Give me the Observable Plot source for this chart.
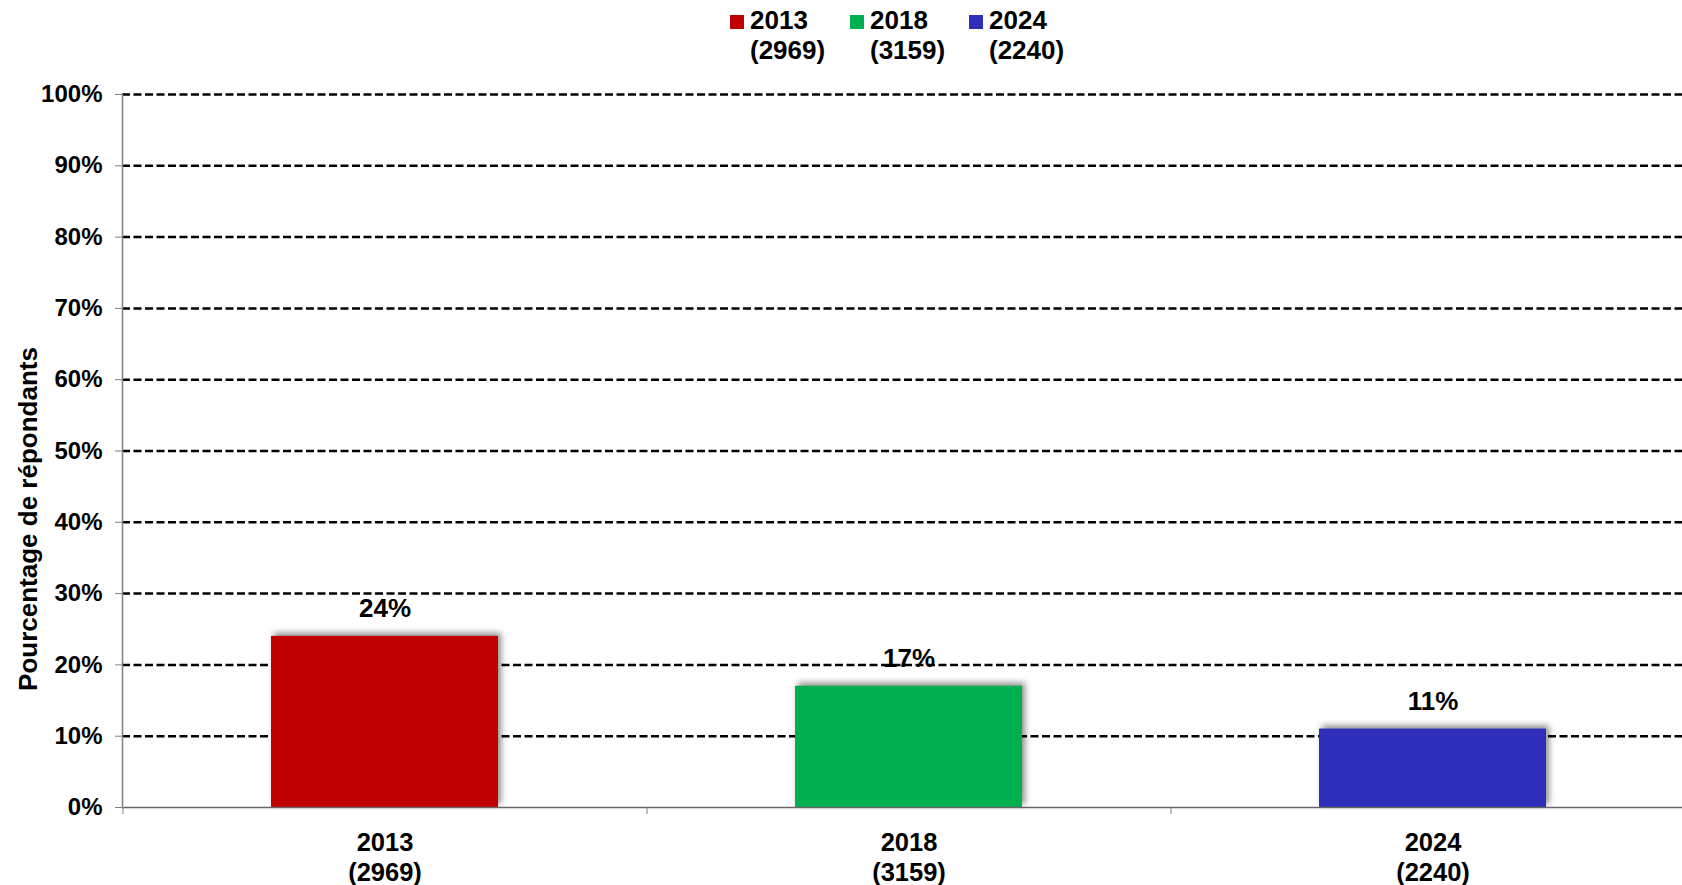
<!DOCTYPE html>
<html>
<head>
<meta charset="utf-8">
<script src="https://cdn.jsdelivr.net/npm/d3@7"></script>
<script src="https://cdn.jsdelivr.net/npm/@observablehq/plot@0.6"></script>
<style>
  html, body { margin: 0; padding: 0; background: #fff; }
  body { font-family: "Liberation Sans", Arial, sans-serif; font-weight: bold; }
  #wrap { position: relative; width: 1682px; }
  #legend { position: relative; height: 70px; }
  .item { position: absolute; top: 0; }
  .sw { position: absolute; top: 15px; left: 0; width: 14px; height: 14px; }
  .lbl { position: absolute; top: 5px; left: 20px; font-size: 26px; line-height: 30px; white-space: nowrap; color: #000; }
  svg { display: block; }
</style>
</head>
<body>
<div id="wrap">
  <div id="legend"></div>
  <div id="chart"></div>
</div>
<script>
const categories = ["2013", "2018", "2024"];
const respondents = [2969, 3159, 2240];
const values = [0.24, 0.17, 0.11];
const colors = ["#C00000", "#00B050", "#2E2EB8"];
const yTicks = [0, 0.1, 0.2, 0.3, 0.4, 0.5, 0.6, 0.7, 0.8, 0.9, 1.0];
const yLabel = "Pourcentage de répondants";

const data = categories.map((c, i) => ({year: c, n: respondents[i], value: values[i]}));
const nOf = Object.fromEntries(data.map(d => [d.year, d.n]));

// Legend
const legend = document.getElementById("legend");
const legendLeft = [730, 850, 969];
data.forEach((d, i) => {
  const item = document.createElement("div");
  item.className = "item";
  item.style.left = legendLeft[i] + "px";
  item.innerHTML = `<div class="sw" style="background:${colors[i]}"></div><div class="lbl">${d.year}<br>(${d.n})</div>`;
  legend.appendChild(item);
});

const W = 1682, marginLeft = 122, marginRight = -12;
const step = (W - marginLeft - marginRight) / categories.length;

const chart = Plot.plot({
  width: W,
  height: 815,
  marginLeft,
  marginRight,
  marginTop: 24,
  marginBottom: 78,
  style: {fontFamily: "'Liberation Sans', Arial, sans-serif", fontWeight: "bold", color: "#000", background: "transparent", overflow: "visible"},
  x: {domain: categories, paddingInner: 0.567, paddingOuter: 0.2835, axis: null},
  y: {domain: [0, 1], axis: null},
  color: {domain: categories, range: colors},
  marks: [
    Plot.gridY(yTicks.slice(1), {stroke: "#000", strokeOpacity: 1, strokeWidth: 2.5, strokeDasharray: "8,3.5"}),
    Plot.barY(data, {x: "year", y: "value", fill: "year"}),
    Plot.ruleY([0], {stroke: "#666", strokeWidth: 1.5}),
    Plot.frame({anchor: "left", stroke: "#808080", strokeWidth: 1.5}),
    Plot.axisY({ticks: yTicks, tickFormat: d3.format(".0%"), tickSize: 7, tickPadding: 13, fontSize: 24, stroke: "#808080", label: null}),
    Plot.axisX({tickSize: 0, tickPadding: 23, fontSize: 25.5, lineHeight: 1.15, label: null, tickFormat: d => `${d}\n(${nOf[d]})`}),
    Plot.axisX({tickSize: 7, dx: step / 2, tickFormat: () => "", stroke: "#808080", label: null}),
    Plot.axisX({ticks: [categories[0]], tickSize: 7, dx: -step / 2, tickFormat: () => "", stroke: "#808080", label: null}),
    Plot.text(data, {x: "year", y: "value", text: d => d3.format(".0%")(d.value), lineAnchor: "bottom", dy: -19, fontSize: 26, fontWeight: "bold"}),
    Plot.text([yLabel], {frameAnchor: "left", text: d => d, rotate: -90, textAnchor: "middle", dx: -94, dy: 68, fontSize: 26, fontWeight: "bold"})
  ]
});

chart.querySelectorAll('g[aria-label="bar"]').forEach(g => {
  g.style.filter = "drop-shadow(3px -3px 3px rgba(0,0,0,0.45))";
});

document.getElementById("chart").appendChild(chart);
</script>
</body>
</html>
